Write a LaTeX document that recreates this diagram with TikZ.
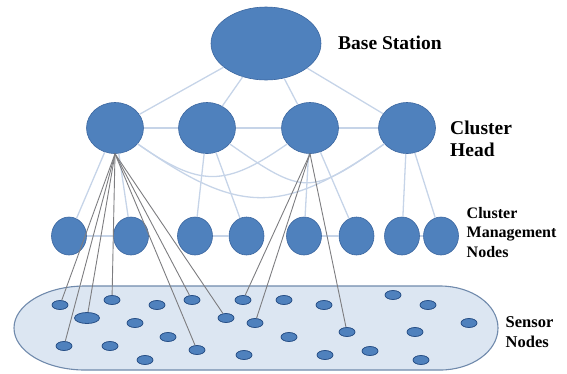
\documentclass[tikz,border=0pt]{standalone}
\usepackage{fontspec}
\setmainfont{Liberation Serif}
\usetikzlibrary{shapes.geometric}

\definecolor{nodeblue}{RGB}{79,129,189}
\definecolor{nodeedge}{RGB}{60,103,160}
\definecolor{linkblue}{RGB}{198,212,232}
\definecolor{fieldfill}{RGB}{220,230,242}
\definecolor{fieldedge}{RGB}{112,138,172}
\definecolor{sensoredge}{RGB}{40,80,135}
\definecolor{wiregray}{RGB}{125,125,128}

\tikzset{
  station/.style={ellipse, fill=nodeblue, draw=nodeedge, line width=0.6pt, inner sep=0pt},
  sensor/.style={ellipse, fill=nodeblue, draw=sensoredge, line width=0.8pt,
    minimum width=16pt, minimum height=9pt, inner sep=0pt},
  link/.style={linkblue, line width=1.3pt},
  wire/.style={wiregray, line width=0.9pt},
  lbl/.style={anchor=west, align=left, inner sep=0pt}
}

\begin{document}
\begin{tikzpicture}[x=1pt,y=-1pt]
    \useasboundingbox (0,0) rectangle (567,373);

    % sensor field
    \draw[fill=fieldfill, draw=fieldedge, line width=1.1pt] (85,286) -- (440,286)
        arc[start angle=-90, end angle=90, x radius=58, y radius=42] -- (85,370)
        arc[start angle=90, end angle=270, x radius=71, y radius=42] -- cycle;

    % base station and cluster heads
    \node[station, minimum width=110pt, minimum height=73pt] (bs) at (266,43.5) {};
    \node[station, minimum width=57pt, minimum height=51pt] (ch1) at (115,128) {};
    \node[station, minimum width=57pt, minimum height=51pt] (ch2) at (207,128) {};
    \node[station, minimum width=57pt, minimum height=51pt] (ch3) at (310,128) {};
    \node[station, minimum width=57pt, minimum height=51pt] (ch4) at (407,128) {};

    % cluster management nodes
    \node[station, minimum width=35pt, minimum height=38pt] (cm1) at (69,236) {};
    \node[station, minimum width=35pt, minimum height=38pt] (cm2) at (131,236) {};
    \node[station, minimum width=35pt, minimum height=38pt] (cm3) at (195,236) {};
    \node[station, minimum width=35pt, minimum height=38pt] (cm4) at (246.5,236) {};
    \node[station, minimum width=35pt, minimum height=38pt] (cm5) at (304,236) {};
    \node[station, minimum width=35pt, minimum height=38pt] (cm6) at (356.5,236) {};
    \node[station, minimum width=35pt, minimum height=38pt] (cm7) at (402,236) {};
    \node[station, minimum width=35pt, minimum height=38pt] (cm8) at (441,236) {};

    % sensor nodes
    \foreach \n/\x/\y in {1/60/305, 3/112/300, 4/157/305, 5/135/323, 6/64/346, 7/110/346,
        8/168/337, 9/145/360, 10/192/300, 11/226/318, 12/243/300, 13/255/323, 14/284/300,
        15/197/350, 16/244/355, 17/289/337, 18/324/305, 19/325/355, 20/347/332, 21/370/351,
        22/393/295, 23/428/305, 24/415/332, 25/469/323, 26/421/360}
        \node[sensor] (s\n) at (\x,\y) {};
    \node[sensor, minimum width=25pt, minimum height=11pt] (s2) at (87,318) {};

    % light links
    \draw[link] (bs) -- (ch1);
    \draw[link] (bs) -- (ch2);
    \draw[link] (bs) -- (ch3);
    \draw[link] (bs) -- (ch4);
    \draw[link] (ch1) -- (ch2);
    \draw[link] (ch2) -- (ch3);
    \draw[link] (ch3) -- (ch4);
    \draw[link] (ch1) -- (cm1);
    \draw[link] (ch1) -- (cm2);
    \draw[link] (ch2) -- (cm3);
    \draw[link] (ch2) -- (cm4);
    \draw[link] (ch3) -- (cm5);
    \draw[link] (ch3) -- (cm6);
    \draw[link] (ch4) -- (cm7);
    \draw[link] (ch4) -- (cm8);
    \draw[link] (cm1) -- (cm2);
    \draw[link] (cm3) -- (cm4);
    \draw[link] (cm5) -- (cm6);
    \draw[link] (cm7) -- (cm8);
    \draw[link] (ch1) to[out=-35,in=-145,looseness=1.3] (ch3);
    \draw[link] (ch1) to[out=-35,in=-145,looseness=1.3] (ch4);
    \draw[link] (ch2) to[out=-35,in=-145,looseness=1.5] (ch4);

    % wires to sensors
    \draw[wire] (ch1.south) -- (s1);
    \draw[wire] (ch1.south) -- (s2);
    \draw[wire] (ch1.south) -- (s3);
    \draw[wire] (ch1.south) -- (s6);
    \draw[wire] (ch1.south) -- (s10);
    \draw[wire] (ch1.south) -- (s11);
    \draw[wire] (ch1.south) -- (s15);
    \draw[wire] (ch3.south) -- (s12);
    \draw[wire] (ch3.south) -- (s13);
    \draw[wire] (ch3.south) -- (s20);

    % labels
    \node[lbl, font=\bfseries\fontsize{19.5}{22}\selectfont] (bslabel) at (338,43) {Base Station};
    \node[lbl, font=\bfseries\fontsize{19.5}{22}\selectfont] (chlabel) at (450,139) {Cluster\\Head};
    \node[lbl, font=\bfseries\fontsize{16}{19.7}\selectfont] (cmlabel) at (466.5,232.5) {Cluster\\Management\\Nodes};
    \node[lbl, font=\bfseries\fontsize{16.5}{20}\selectfont] (snlabel) at (505.5,332) {Sensor\\Nodes};
\end{tikzpicture}
\end{document}
